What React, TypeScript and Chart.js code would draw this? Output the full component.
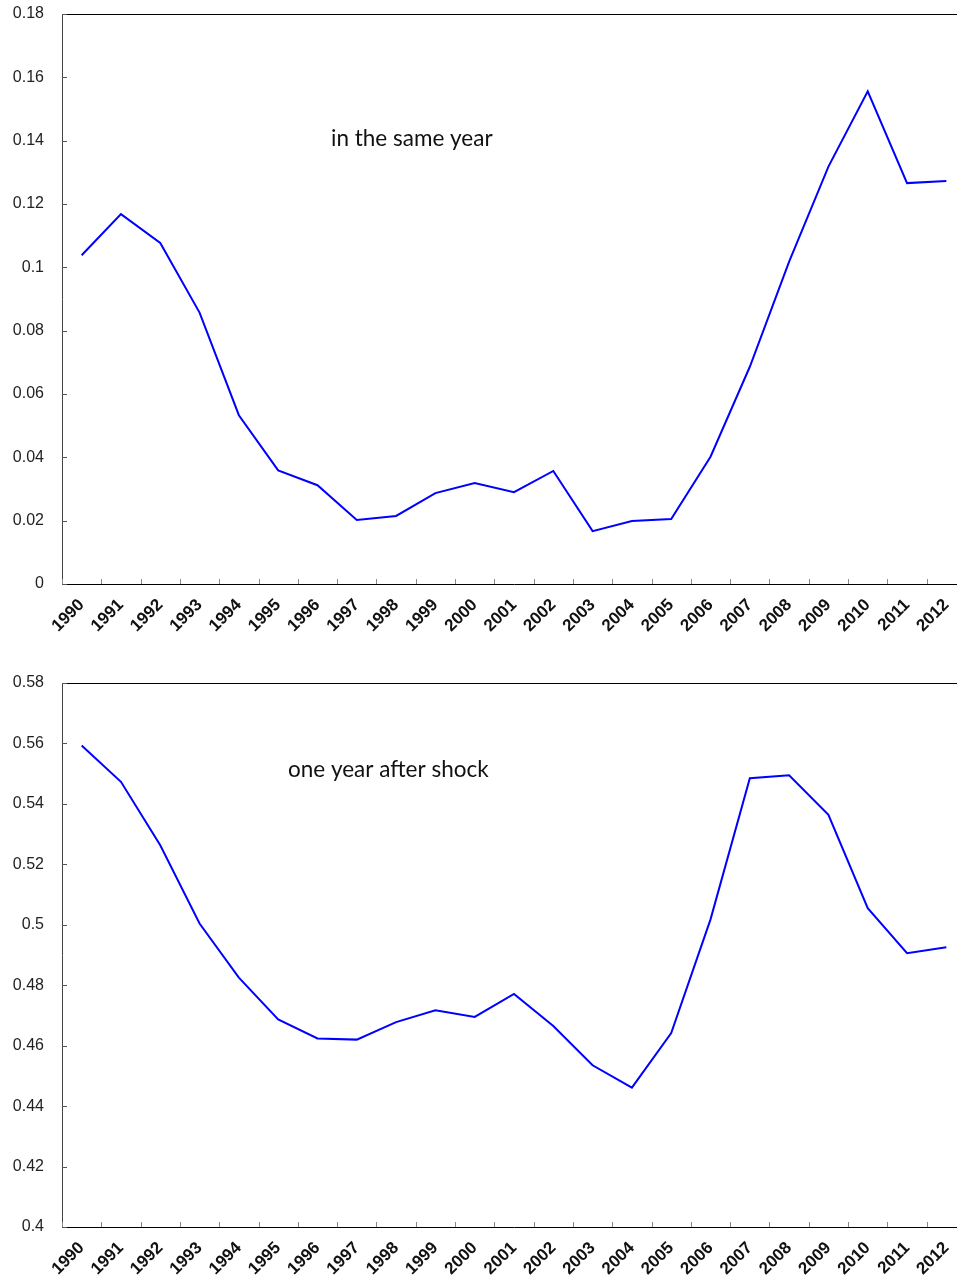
import React, { useEffect, useRef } from "react";
import { Chart, registerables } from "chart.js";

Chart.register(...registerables);

const years = [
  "1990", "1991", "1992", "1993", "1994", "1995", "1996", "1997", "1998", "1999", "2000",
  "2001", "2002", "2003", "2004", "2005", "2006", "2007", "2008", "2009", "2010", "2011", "2012",
];

const sameYear = [
  0.1038, 0.1168, 0.1077, 0.0857, 0.0533, 0.0359, 0.0312, 0.0202, 0.0215, 0.0287, 0.0319,
  0.029, 0.0357, 0.0167, 0.0199, 0.0205, 0.0402, 0.0686, 0.1018, 0.1318, 0.1556, 0.1266, 0.1273,
];

const oneYearAfter = [
  0.5593, 0.5473, 0.5263, 0.5004, 0.4825, 0.4687, 0.4624, 0.462, 0.4678, 0.4717, 0.4695,
  0.4771, 0.4665, 0.4535, 0.4461, 0.4642, 0.5018, 0.5485, 0.5495, 0.5364, 0.5055, 0.4906, 0.4926,
];

const topAxis = { min: 0, max: 0.18, step: 0.02 };
const bottomAxis = { min: 0.4, max: 0.58, step: 0.02 };

const topLabel = "in the same year";
const bottomLabel = "one year after shock";

const decorPlugin = {
  id: "decor",
  afterDraw(chart: any, _args: any, opts: any) {
    const { ctx, chartArea, scales } = chart;
    const { left, right, top, bottom } = chartArea;
    const x = scales.x;
    const y = scales.y;
    ctx.save();
    // top frame line
    ctx.strokeStyle = "#000";
    ctx.lineWidth = 1;
    ctx.beginPath();
    ctx.moveTo(left, Math.round(top) + 0.5);
    ctx.lineTo(right, Math.round(top) + 0.5);
    ctx.stroke();
    // inner x tick marks at category boundaries
    ctx.strokeStyle = "#888";
    for (let i = 0; i <= years.length; i++) {
      const px = Math.round(x.getPixelForValue(i - 0.5)) + 0.5;
      ctx.beginPath();
      ctx.moveTo(px, bottom);
      ctx.lineTo(px, bottom - 5);
      ctx.stroke();
    }
    // inner y tick marks
    ctx.strokeStyle = "#555";
    for (const t of y.ticks) {
      const py = Math.round(y.getPixelForValue(t.value)) + 0.5;
      ctx.beginPath();
      ctx.moveTo(left, py);
      ctx.lineTo(left + 5, py);
      ctx.stroke();
    }
    // annotation text
    ctx.fillStyle = "#111";
    ctx.font = "22.5px Lato";
    ctx.textAlign = "left";
    ctx.textBaseline = "alphabetic";
    ctx.fillText(opts.text, opts.tx, opts.ty);
    ctx.restore();
  },
};

function LineChart(props: {
  values: number[];
  axis: { min: number; max: number; step: number };
  text: string;
  tx: number;
  ty: number;
  height: number;
  plotTop: number;
  plotBottom: number;
}) {
  const ref = useRef<HTMLCanvasElement | null>(null);
  useEffect(() => {
    if (!ref.current) return;
    const { values, axis, text, tx, ty, height, plotTop, plotBottom } = props;
    const chart = new Chart(ref.current, {
      type: "line",
      data: {
        labels: years,
        datasets: [
          {
            data: values,
            borderColor: "#0000ff",
            borderWidth: 2,
            pointRadius: 0,
            tension: 0,
            fill: false,
          },
        ],
      },
      options: {
        animation: false,
        responsive: true,
        maintainAspectRatio: false,
        layout: { padding: { left: 0, right: 24, top: plotTop, bottom: 0 } },
        plugins: {
          legend: { display: false },
          tooltip: { enabled: false },
          decor: { text, tx, ty },
        } as any,
        scales: {
          x: {
            type: "category",
            offset: true,
            grid: { display: false, drawTicks: false, offset: true },
            border: { display: true, color: "#000", width: 1 },
            ticks: {
              autoSkip: false,
              minRotation: 45,
              maxRotation: 45,
              padding: 11,
              color: "#111",
              font: { family: "'Liberation Sans', Arial, sans-serif", size: 17, weight: "bold" },
            },
            afterFit: (scale: any) => {
              scale.height = height - plotBottom;
              scale.paddingLeft = 0;
              scale.paddingRight = 0;
            },
          },
          y: {
            min: axis.min,
            max: axis.max,
            grid: { display: false, drawTicks: false },
            border: { display: true, color: "#444", width: 1 },
            ticks: {
              stepSize: axis.step,
              padding: 18,
              color: "#222",
              font: { family: "'Liberation Sans', Arial, sans-serif", size: 16 },
              callback: (v: any) => String(Number(Number(v).toFixed(2))),
            },
            afterFit: (scale: any) => {
              scale.width = 62;
              scale.paddingTop = 0;
              scale.paddingBottom = 0;
            },
          },
        },
      },
      plugins: [decorPlugin],
    });
    return () => chart.destroy();
  }, []);
  return (
    <div style={{ position: "relative", width: 990, height: props.height }}>
      <canvas ref={ref} />
    </div>
  );
}

export default function App() {
  return (
    <div
      style={{
        position: "absolute",
        left: 0,
        top: 0,
        width: 957,
        height: 1281,
        overflow: "hidden",
        background: "#fff",
      }}
    >
      <div style={{ position: "absolute", left: 0, top: 0 }}>
        <LineChart
          values={sameYear}
          axis={topAxis}
          text={topLabel}
          tx={331}
          ty={146}
          height={650}
          plotTop={14}
          plotBottom={584}
        />
      </div>
      <div style={{ position: "absolute", left: 0, top: 650 }}>
        <LineChart
          values={oneYearAfter}
          axis={bottomAxis}
          text={bottomLabel}
          tx={288}
          ty={127}
          height={631}
          plotTop={33}
          plotBottom={577}
        />
      </div>
    </div>
  );
}
